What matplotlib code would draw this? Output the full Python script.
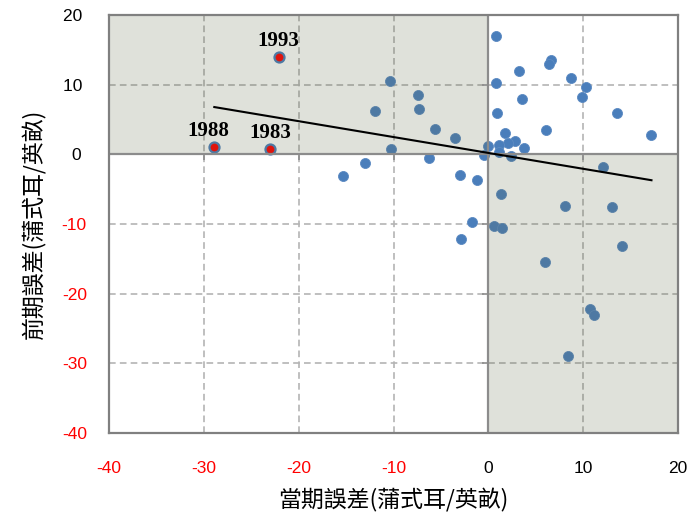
import numpy as np
import matplotlib
matplotlib.use("Agg")
import matplotlib.pyplot as plt
from matplotlib.patches import Rectangle

# data
cur_err = [0.77, 3.2, 6.56, 6.4, 8.68, 10.3, 9.84, 0.81, 3.56, 13.6,
           0.88, 6.07, 17.1, 1.8, 2.79, 2.08, 1.13, 3.78, -0.04, 1.16,
           -0.46, 2.36, 12.1, -10.4, -7.4, -7.3, -12.0, -5.58, -3.49, -10.3,
           -13.0, -15.3, -6.3, -2.96, -1.23, 1.3, 8.1, 13.0, -1.7, 0.56,
           1.45, -2.93, 14.1, 6.0, 10.7, 11.1, 8.36]
prev_err = [16.97, 12.0, 13.5, 12.96, 11.0, 9.7, 8.2, 10.2, 8.0, 5.9,
            5.97, 3.49, 2.72, 3.06, 2.0, 1.67, 1.38, 0.86, 1.19, 0.38,
            -0.15, -0.2, -1.78, 10.6, 8.6, 6.5, 6.3, 3.7, 2.3, 0.76,
            -1.3, -3.07, -0.53, -2.97, -3.6, -5.65, -7.4, -7.5, -9.7, -10.3,
            -10.5, -12.1, -13.1, -15.4, -22.2, -23.0, -28.9]

hl_years = ["1993", "1988", "1983"]
hl_cur = [-22.1, -28.9, -23.0]
hl_prev = [14.0, 1.0, 0.76]

trend_x = [-28.9, 17.2]
trend_y = [6.8, -3.7]

xticks = [-40, -30, -20, -10, 0, 10, 20]
yticks = [-40, -30, -20, -10, 0, 10, 20]

cjk = ["Noto Sans CJK TC", "DejaVu Sans"]
tickfont = "Liberation Sans"

fig = plt.figure(figsize=(6.99, 5.2), dpi=100)
ax = fig.add_axes([0.156, 0.167, 0.814, 0.804])
ax.set_xlim(-40, 20)
ax.set_ylim(-40, 20)

# grid
for v in [-30, -20, -10, 10]:
    ax.axvline(v, color="#b4b4b4", lw=1.2, ls=(0, (4, 2.5)), zorder=1)
    ax.axhline(v, color="#b4b4b4", lw=1.2, ls=(0, (4, 2.5)), zorder=1)

# points
blue = "#4a7ebb"
ax.scatter(cur_err, prev_err, s=52, color=blue, edgecolors="#5b8ac2",
           linewidths=0.6, zorder=3)
ax.scatter(hl_cur, hl_prev, s=52, color="red", edgecolors=blue,
           linewidths=1.6, zorder=3)

# shaded quadrants on top (darkens points below)
shade = (95 / 255, 105 / 255, 70 / 255)
ax.add_patch(Rectangle((-40, 0), 40, 20, facecolor=shade, alpha=0.2,
                       edgecolor="none", zorder=4))
ax.add_patch(Rectangle((0, -40), 20, 40, facecolor=shade, alpha=0.2,
                       edgecolor="none", zorder=4))

# zero axes with tick marks
ax.axhline(0, color="#8c8c8c", lw=1.6, zorder=5)
ax.axvline(0, color="#8c8c8c", lw=1.6, zorder=5)
ax.plot(xticks, [0] * len(xticks), ls="none", marker=3, ms=4,
        mew=1.2, color="#8c8c8c", zorder=5)
ax.plot([0] * len(yticks), yticks, ls="none", marker=0, ms=4,
        mew=1.2, color="#8c8c8c", zorder=5)

# trend line
ax.plot(trend_x, trend_y, color="black", lw=1.5, zorder=6)

# year labels
for yr, xv, yv in zip(hl_years, hl_cur, hl_prev):
    dx = 0 if yr != "1988" else -6
    ax.annotate(yr, (xv, yv), xytext=(dx, 16), textcoords="offset pixels",
                ha="center", va="center", fontsize=15, fontweight="bold",
                family="Liberation Serif", zorder=7)

for s in ax.spines.values():
    s.set_color("#808080")
    s.set_linewidth(1.6)
    s.set_zorder(6)

ax.set_xticks(xticks)
ax.set_yticks(yticks)
ax.set_xticklabels([str(t) for t in xticks], family=tickfont, fontsize=12.5)
ax.set_yticklabels([str(t) if t < 0 else str(t) + " " for t in yticks],
                   family=tickfont, fontsize=12.5)
for lab, t in zip(ax.get_xticklabels(), xticks):
    lab.set_color("red" if t < 0 else "black")
for lab, t in zip(ax.get_yticklabels(), yticks):
    lab.set_color("red" if t < 0 else "black")
ax.tick_params(axis="both", length=0)
ax.tick_params(axis="x", pad=20)
ax.tick_params(axis="y", pad=16)

ax.set_xlabel("當期誤差(蒲式耳/英畝)", family=cjk, fontsize=16.5, labelpad=9)
ax.set_ylabel("前期誤差(蒲式耳/英畝)", family=cjk, fontsize=16.5, labelpad=11)

fig.savefig("out.png", dpi=100)
